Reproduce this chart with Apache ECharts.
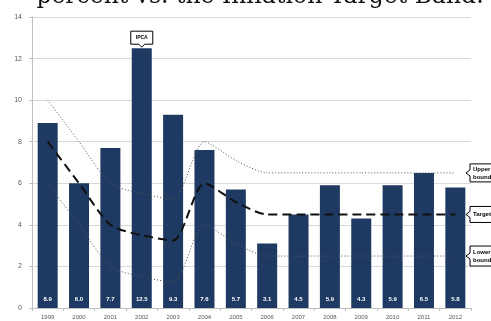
<!DOCTYPE html>
<html>
<head>
<meta charset="utf-8">
<script src="https://cdn.jsdelivr.net/npm/echarts@6/dist/echarts.min.js"></script>
<style>
html,body{margin:0;padding:0;background:#fff;}
#chart{width:491px;height:321px;}
</style>
</head>
<body>
<div id="chart"></div>
<script>
// Annual IPCA inflation vs. the inflation target band, 1999-2012
const years = ['1999','2000','2001','2002','2003','2004','2005','2006','2007','2008','2009','2010','2011','2012'];
const ipca = [8.9, 6.0, 7.7, 12.5, 9.3, 7.6, 5.7, 3.1, 4.5, 5.9, 4.3, 5.9, 6.5, 5.8];
const target = [8, 6, 4, 3.5, 3.25, 6, 5.1, 4.5, 4.5, 4.5, 4.5, 4.5, 4.5, 4.5];
const upperBound = [10, 8, 6, 5.5, 5.25, 8, 7.1, 6.5, 6.5, 6.5, 6.5, 6.5, 6.5, 6.5];
const lowerBound = [6, 4, 2, 1.5, 1.25, 4, 3.1, 2.5, 2.5, 2.5, 2.5, 2.5, 2.5, 2.5];
const yTicks = [0, 2, 4, 6, 8, 10, 12, 14];

const chart = echarts.init(document.getElementById('chart'), null, {renderer: 'canvas'});
const navy = '#1f3a62';
const smallFont = 'Liberation Sans, Arial, sans-serif';

chart.setOption({
  animation: false,
  grid: {left: 32, right: 20, top: 17, bottom: 13, containLabel: false},
  xAxis: {
    type: 'category',
    data: years,
    boundaryGap: true,
    axisLine: {lineStyle: {color: '#bfbfbf'}},
    axisTick: {show: true, length: 3, lineStyle: {color: '#bfbfbf'}},
    axisLabel: {color: '#595959', fontSize: 6, margin: 6, fontFamily: smallFont}
  },
  yAxis: {
    type: 'value',
    min: yTicks[0],
    max: yTicks[yTicks.length - 1],
    interval: 2,
    axisLine: {show: true, lineStyle: {color: '#bfbfbf'}},
    axisTick: {show: true, length: 3, lineStyle: {color: '#bfbfbf'}},
    splitLine: {lineStyle: {color: '#d9d9d9'}},
    axisLabel: {color: '#595959', fontSize: 7, margin: 10, fontFamily: smallFont}
  },
  series: [
    {
      name: 'IPCA', type: 'bar', data: ipca, barWidth: 20,
      itemStyle: {color: navy},
      label: {show: true, position: 'insideBottom', distance: 6, color: '#fff',
        fontSize: 6, fontWeight: 'bold', fontFamily: smallFont,
        formatter: p => p.value.toFixed(1)}
    },
    {
      name: 'Upper bound', type: 'line', data: upperBound, smooth: 0.25, symbol: 'none',
      lineStyle: {color: '#555', width: 1, type: [1, 2]}, z: 3
    },
    {
      name: 'Target', type: 'line', data: target, smooth: 0.25, symbol: 'none',
      lineStyle: {color: '#111', width: 2, type: [9, 5]}, z: 3
    },
    {
      name: 'Lower bound', type: 'line', data: lowerBound, smooth: 0.25, symbol: 'none',
      lineStyle: {color: '#555', width: 1, type: [1, 2]}, z: 3
    }
  ]
});

// Callout boxes: positions come from the chart's own coordinate system
function calloutLeft(yVal, lines, h) {
  const p = chart.convertToPixel({gridIndex: 0}, [years.length - 1, yVal]);
  const x0 = 466, y = p[1];
  const top = y - h / 2, bot = y + h / 2, right = 520;
  return [
    {type: 'polygon', shape: {points: [[x0 + 4, top], [right, top], [right, bot], [x0 + 4, bot], [x0 + 4, y + 3], [x0, y], [x0 + 4, y - 3]]},
      style: {fill: '#fff', stroke: '#000', lineWidth: 1}, z: 10},
    {type: 'text', x: x0 + 7, y: y, style: {text: lines, fill: '#000', font: 'bold 6px ' + smallFont,
      verticalAlign: 'middle', lineHeight: 8}, z: 11}
  ];
}
function calloutIPCA() {
  const p = chart.convertToPixel({gridIndex: 0}, [3, ipca[3]]);
  const cx = p[0], bTop = p[1];
  const bot = bTop - 4, top = bot - 13, l = cx - 11, r = cx + 11;
  return [
    {type: 'polygon', shape: {points: [[l, top], [r, top], [r, bot], [cx + 3, bot], [cx, bot + 3], [cx - 3, bot], [l, bot]]},
      style: {fill: '#fff', stroke: '#000', lineWidth: 1}, z: 10},
    {type: 'text', x: cx, y: (top + bot) / 2, style: {text: 'IPCA', fill: '#000', font: 'bold 5px ' + smallFont,
      align: 'center', verticalAlign: 'middle'}, z: 11}
  ];
}

chart.setOption({
  graphic: [
    {type: 'text', x: 260, y: 9, style: {text: 'percent vs. the Inflation Target Band.', fill: '#111',
      font: '23.5px "DejaVu Serif", serif', align: 'center', verticalAlign: 'bottom'}},
    ...calloutLeft(upperBound[upperBound.length - 1], 'Upper\nbound', 18),
    ...calloutLeft(target[target.length - 1], 'Target', 16),
    ...calloutLeft(lowerBound[lowerBound.length - 1], 'Lower\nbound', 20),
    ...calloutIPCA()
  ]
});
</script>
</body>
</html>
